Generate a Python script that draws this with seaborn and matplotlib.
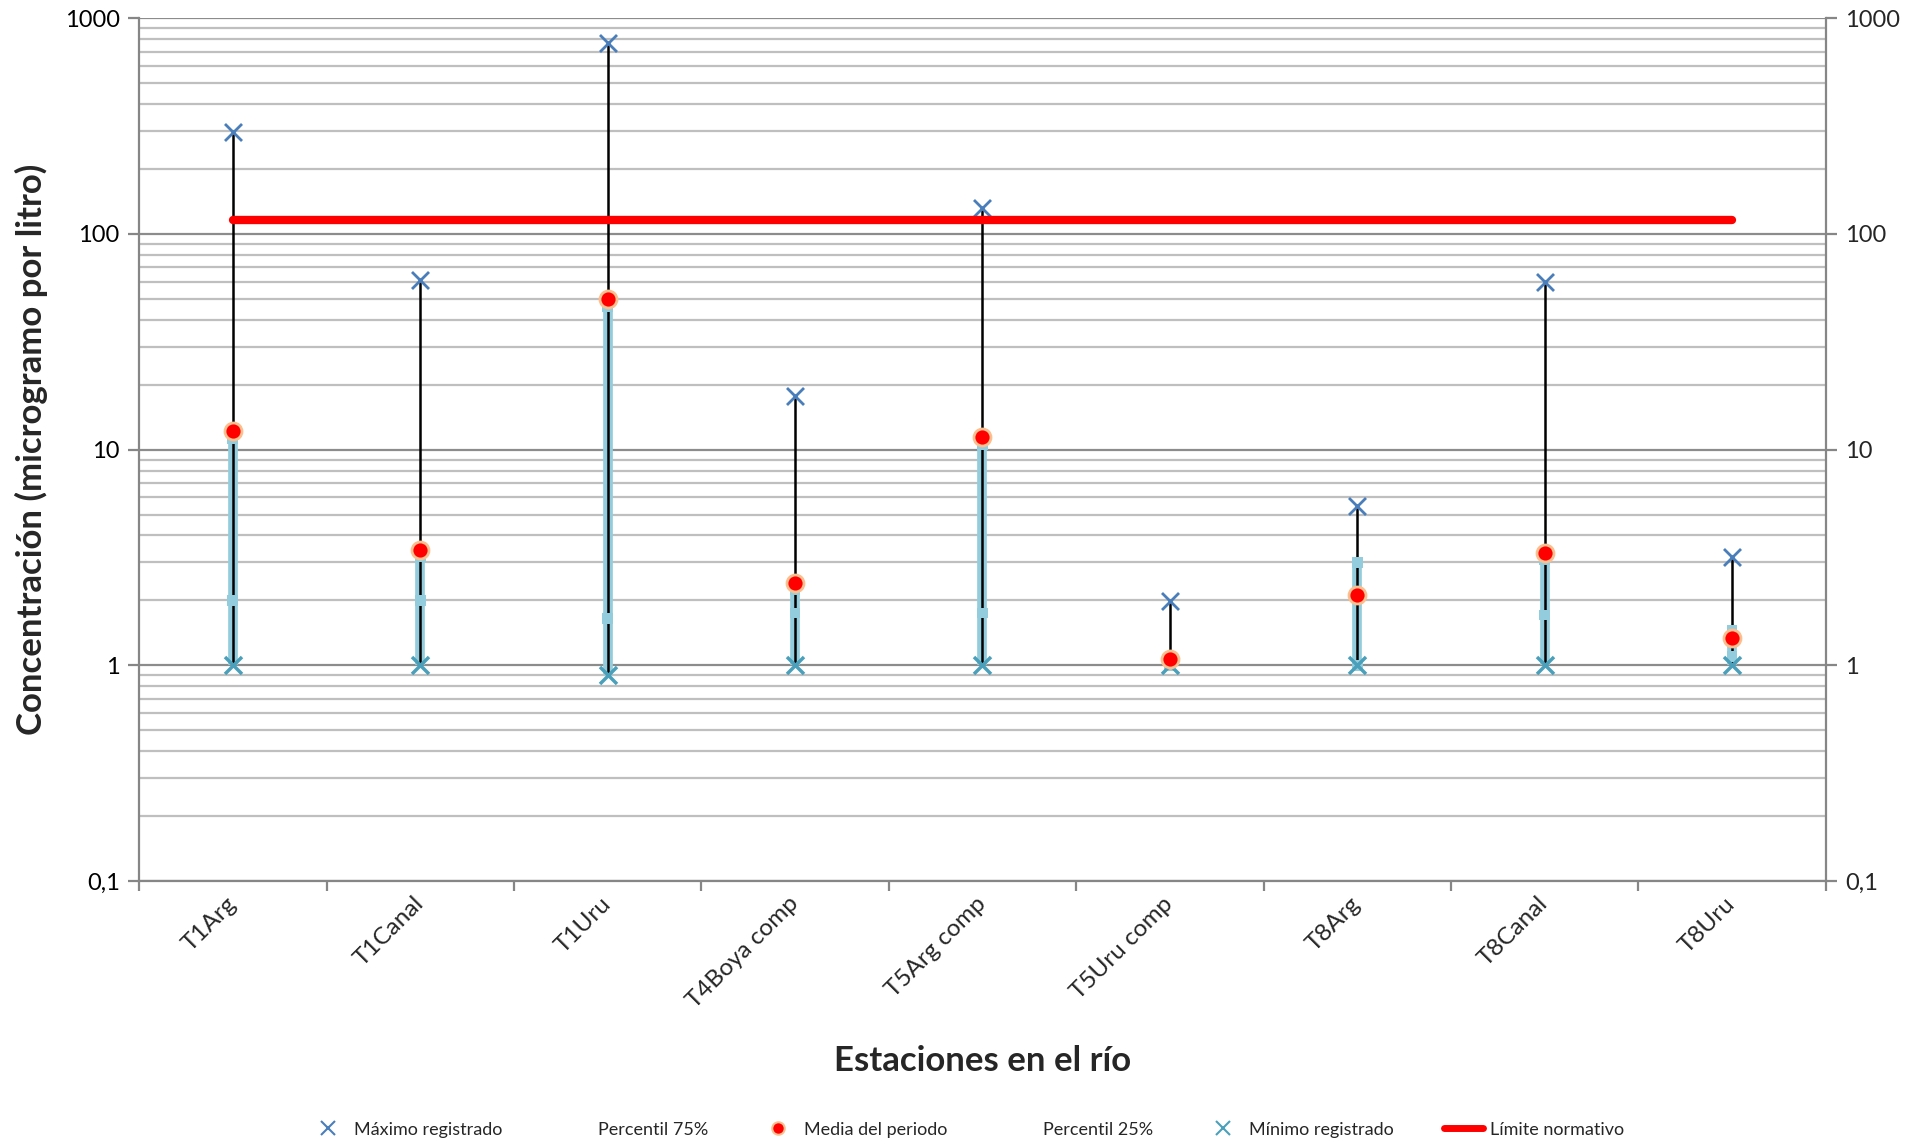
import numpy as np
import pandas as pd
import matplotlib
matplotlib.use("Agg")
import matplotlib.pyplot as plt
from matplotlib.lines import Line2D
from matplotlib.ticker import FixedLocator, NullFormatter, FixedFormatter, LogLocator
import seaborn as sns

# ---- data ----
stations = ["T1Arg", "T1Canal", "T1Uru", "T4Boya comp", "T5Arg comp",
            "T5Uru comp", "T8Arg", "T8Canal", "T8Uru"]
maximo = [298, 61.5, 770, 17.8, 132, 1.98, 5.45, 60, 3.18]
p75 = [11.3, 3.2, 46, 2.25, 10.6, 1.06, 3.0, 3.1, 1.45]
media = [12.2, 3.44, 49.8, 2.41, 11.4, 1.07, 2.12, 3.31, 1.34]
p25 = [2.0, 2.0, 1.65, 1.75, 1.75, 1.0, 1.0, 1.71, 1.1]
minimo = [1.0, 1.0, 0.9, 1.0, 1.0, 1.0, 1.0, 1.0, 1.0]
limite = [115.5] * len(stations)
ytick_vals = [0.1, 1, 10, 100, 1000]
ytick_labels = ["0,1", "1", "10", "100", "1000"]

legend_labels = ["Máximo registrado", "Percentil 75%", "Media del periodo",
                 "Percentil 25%", "Mínimo registrado", "Límite normativo"]

sns.set_theme(style="white")
plt.rcParams["font.family"] = ["Lato", "DejaVu Sans"]

df = pd.DataFrame({"station": stations, "pos": np.arange(len(stations)) + 0.5,
                   "max": maximo, "p75": p75, "media": media, "p25": p25,
                   "min": minimo, "lim": limite})

fig = plt.figure(figsize=(19.32, 11.45), dpi=100)
ax = fig.add_axes([0.072, 0.2306, 0.873, 0.7534])
ax.set_yscale("log")
ax.set_ylim(0.1, 1000)
ax.set_xlim(0, len(stations))

gray = "#868686"
# grid
ax.yaxis.set_minor_locator(LogLocator(base=10, subs=np.arange(2, 10)))
ax.grid(True, which="major", axis="y", color="#8c8c8c", lw=1.6, zorder=0)
ax.grid(True, which="minor", axis="y", color="#bfbfbf", lw=1.6, zorder=0)

# light blue bar P75 -> min
ax.vlines(df["pos"], df["min"], df["p75"], color="#93cddd", lw=7, zorder=2)
# black high-low line
ax.vlines(df["pos"], df["min"], df["max"], color="black", lw=1.8, zorder=3)
# percentile markers
sns.scatterplot(data=df, x="pos", y="p75", marker="s", s=60, color="#93cddd",
                edgecolor="none", ax=ax, zorder=3, legend=False)
sns.scatterplot(data=df, x="pos", y="p25", marker="s", s=60, color="#93cddd",
                edgecolor="none", ax=ax, zorder=3, legend=False)
# max / min
sns.scatterplot(data=df, x="pos", y="max", marker="x", s=150, color="#4a7ebb",
                linewidth=2, ax=ax, zorder=4, legend=False)
sns.scatterplot(data=df, x="pos", y="min", marker="x", s=150, color="#4aa0bb",
                linewidth=2.5, ax=ax, zorder=4, legend=False)
# mean
sns.scatterplot(data=df, x="pos", y="media", marker="o", s=150, color="#ff0000",
                edgecolor="#fac090", linewidth=2, ax=ax, zorder=5, legend=False)
# limit line
sns.lineplot(data=df, x="pos", y="lim", color="#ff0000", lw=6, ax=ax,
             zorder=4, legend=False)

# axes style
for sp in ax.spines.values():
    sp.set_color(gray)
    sp.set_linewidth(1.6)
ax.spines["top"].set_visible(False)

ax.yaxis.set_major_locator(FixedLocator(ytick_vals))
ax.yaxis.set_major_formatter(FixedFormatter(ytick_labels))
ax.yaxis.set_minor_formatter(NullFormatter())
ax.tick_params(axis="y", which="major", left=True, length=8, width=1.6,
               color=gray, labelsize=17, pad=6, labelcolor="black")
ax.tick_params(axis="y", which="minor", left=False, length=0)

ax.xaxis.set_major_locator(FixedLocator(np.arange(len(stations) + 1)))
ax.xaxis.set_major_formatter(NullFormatter())
ax.xaxis.set_minor_locator(FixedLocator(df["pos"].values))
ax.xaxis.set_minor_formatter(FixedFormatter(stations))
ax.tick_params(axis="x", which="major", bottom=True, length=7, width=1.6, color=gray)
ax.tick_params(axis="x", which="minor", bottom=False, length=0, labelsize=17.5, pad=14)
for lbl in ax.get_xticklabels(minor=True):
    lbl.set_rotation(45)
    lbl.set_ha("right")
    lbl.set_rotation_mode("anchor")
    lbl.set_va("center")

# right axis
ax2 = ax.twinx()
ax2.set_yscale("log")
ax2.set_ylim(0.1, 1000)
ax2.yaxis.set_major_locator(FixedLocator(ytick_vals))
ax2.yaxis.set_major_formatter(FixedFormatter(ytick_labels))
ax2.yaxis.set_minor_formatter(NullFormatter())
ax2.tick_params(axis="y", which="major", right=True, length=8, width=1.6,
                color=gray, labelsize=17, pad=6)
ax2.tick_params(axis="y", which="minor", right=False, length=0)
for sp in ax2.spines.values():
    sp.set_visible(False)
ax2.grid(False)

ax.set_xlabel("Estaciones en el río", fontsize=25, fontweight="bold")
ax.set_ylabel("Concentración (microgramo por litro)", fontsize=25,
              fontweight="bold")
ax.xaxis.set_label_coords(0.5, -0.19)
ax.yaxis.set_label_coords(-0.054, 0.5)

handles = [
    Line2D([], [], ls="none", marker="x", color="#4a7ebb", ms=10, mew=1.5),
    Line2D([], [], ls="none", marker=None),
    Line2D([], [], ls="none", marker="o", color="#ff0000", mec="#fac090", ms=9, mew=1.5),
    Line2D([], [], ls="none", marker=None),
    Line2D([], [], ls="none", marker="x", color="#4aa0bb", ms=10, mew=1.5),
    Line2D([], [], color="#ff0000", lw=5),
]
fig.legend(handles, legend_labels, loc="center", bbox_to_anchor=(0.5, 0.0135),
           ncol=6, frameon=False, fontsize=13, columnspacing=2.75,
           handlelength=2.2, handletextpad=0.35)

fig.savefig("out.png", dpi=100)
